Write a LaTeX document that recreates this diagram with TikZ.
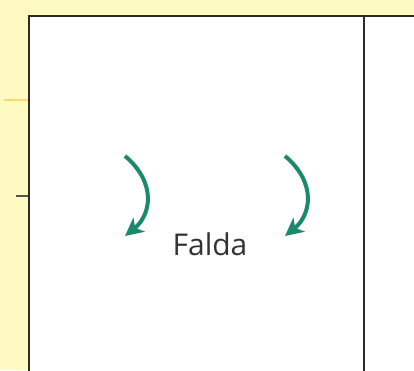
\documentclass[tikz,border=0pt]{standalone}
\usepackage{fontspec}
\setmainfont{Open Sans}
\usetikzlibrary{arrows.meta}
\definecolor{bgyellow}{HTML}{FFF9C2}
\definecolor{tickyellow}{HTML}{FFD966}
\definecolor{teal}{HTML}{1B8A6C}
\definecolor{frame}{HTML}{2B2B2B}
\definecolor{label}{HTML}{333333}
\tikzset{
  frameline/.style={draw=frame, line width=2pt},
  turnarrow/.style={draw=teal, line width=4pt, -{Stealth[length=18pt,width=18pt,inset=5pt]}},
}
\begin{document}
\begin{tikzpicture}[x=1pt,y=-1pt]
\useasboundingbox (0,0) rectangle (414,370);
\fill[bgyellow] (0,0) rectangle (414,370);
\fill[white] (29,16) rectangle (414,370);
\draw[frameline] (29,372) -- (29,16) -- (416,16);
\draw[frameline] (364,16) -- (364,372);
\draw[tickyellow, line width=1.8pt] (4,100) -- (28,100);
\draw[frame!80, line width=1.2pt] (16,196) -- (28,196);
\coordinate (l1) at (125,156);
\coordinate (l2) at (125,236);
\coordinate (r1) at (285,156);
\coordinate (r2) at (285,236);
\draw[turnarrow] (l1) .. controls (157,183) and (151,215) .. (l2);
\draw[turnarrow] (r1) .. controls (317,183) and (311,215) .. (r2);
\node[text=label, font=\fontsize{30}{34}\selectfont, anchor=base] (falda) at (210,255) {Falda};
\end{tikzpicture}
\end{document}
